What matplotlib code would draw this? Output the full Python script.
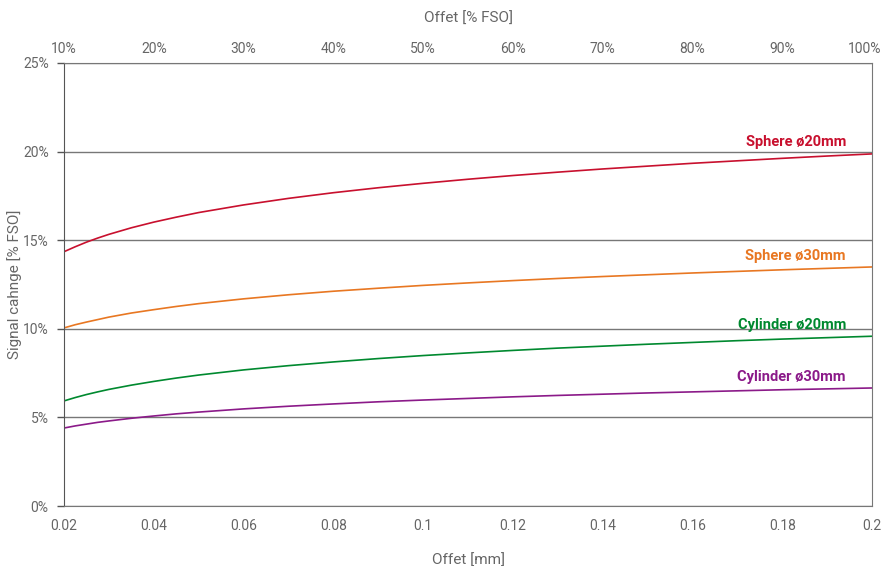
import matplotlib
matplotlib.use("Agg")
import matplotlib.pyplot as plt
import matplotlib.transforms as mtransforms
from matplotlib.ticker import FuncFormatter

offset_mm = [0.02, 0.0225, 0.025, 0.0275, 0.03, 0.035, 0.04, 0.045, 0.05, 0.06, 0.07, 0.08, 0.09, 0.10,
             0.11, 0.12, 0.13, 0.14, 0.15, 0.16, 0.17, 0.18, 0.19, 0.20]
sphere20 = [14.35, 14.63, 14.89, 15.12, 15.33, 15.70, 16.02, 16.30, 16.56, 16.99, 17.36, 17.68, 17.96, 18.21,
            18.44, 18.65, 18.84, 19.02, 19.18, 19.34, 19.48, 19.62, 19.75, 19.87]
sphere30 = [10.05, 10.23, 10.38, 10.52, 10.66, 10.89, 11.08, 11.26, 11.42, 11.69, 11.92, 12.12, 12.29, 12.45,
            12.59, 12.72, 12.84, 12.95, 13.05, 13.15, 13.24, 13.33, 13.41, 13.49]
cylinder20 = [5.93, 6.12, 6.29, 6.44, 6.58, 6.82, 7.03, 7.22, 7.39, 7.68, 7.92, 8.13, 8.32, 8.49,
              8.64, 8.78, 8.91, 9.02, 9.13, 9.23, 9.33, 9.42, 9.50, 9.58]
cylinder30 = [4.40, 4.52, 4.62, 4.72, 4.80, 4.95, 5.08, 5.20, 5.30, 5.48, 5.63, 5.76, 5.88, 5.98,
              6.07, 6.16, 6.24, 6.31, 6.38, 6.44, 6.50, 6.56, 6.61, 6.66]
series_names = ["Sphere ø20mm", "Sphere ø30mm", "Cylinder ø20mm", "Cylinder ø30mm"]
series_colors = ["#C8102E", "#E87722", "#00892F", "#8B1A89"]

x_ticks = [0.02, 0.04, 0.06, 0.08, 0.1, 0.12, 0.14, 0.16, 0.18, 0.2]
x_tick_labels = ["0.02", "0.04", "0.06", "0.08", "0.1", "0.12", "0.14", "0.16", "0.18", "0.2"]
y_ticks = [0, 5, 10, 15, 20, 25]
top_ticks = [10, 20, 30, 40, 50, 60, 70, 80, 90, 100]

plt.rcParams['font.family'] = ['Roboto', 'DejaVu Sans']

tick_color = "#666666"
fig = plt.figure(figsize=(8.82, 5.66), dpi=100)
ax = fig.add_axes([64/882, 60/566, (872-64)/882, (506-63)/566])

all_series = [sphere20, sphere30, cylinder20, cylinder30]
for vals, c in zip(all_series, series_colors):
    ax.plot(offset_mm, vals, color=c, lw=1.2)

for vals, name, c in zip(all_series, series_names, series_colors):
    ax.text(0.1942, vals[-1] + 0.25, name, color=c, fontsize=10.5, fontweight='bold',
            ha='right', va='bottom')

ax.set_xlim(0.02, 0.2)
ax.set_ylim(0, 25)
ax.set_xticks(x_ticks)
ax.set_xticklabels(x_tick_labels)
ax.set_yticks(y_ticks)
ax.yaxis.set_major_formatter(FuncFormatter(lambda v, p: f"{v:.0f}%"))
for y in y_ticks:
    ax.axhline(y, color="#777777", lw=1.0, zorder=0)

for s in ['left', 'right', 'bottom', 'top']:
    ax.spines[s].set_color("#777777")
ax.spines['left'].set_color("#555555")
ax.tick_params(axis='y', colors="#555555", labelcolor=tick_color, labelsize=10, length=5, width=1, pad=6)
ax.tick_params(axis='x', colors=tick_color, labelsize=10, length=0, pad=9)

ax.set_xlabel("Offet [mm]", color=tick_color, fontsize=11, labelpad=15)
ax.set_ylabel("Signal cahnge [% FSO]", color=tick_color, fontsize=11, labelpad=1)

ax2 = ax.secondary_xaxis('top', functions=(lambda x: x / 0.2 * 100, lambda p: p / 100 * 0.2))
ax2.set_xticks(top_ticks)
ax2.set_xticklabels([f"{t}%" for t in top_ticks])
ax2.tick_params(axis='x', colors=tick_color, labelsize=10, length=0, pad=5)
ax2.spines['top'].set_visible(False)
ax2.set_xlabel("Offet [% FSO]", color=tick_color, fontsize=11, labelpad=14)

last = ax2.get_xticklabels()[-1]
last.set_horizontalalignment('right')
last.set_transform(last.get_transform() + mtransforms.ScaledTranslation(9/100, 0, fig.dpi_scale_trans))

fig.savefig("out.png", dpi=100)
